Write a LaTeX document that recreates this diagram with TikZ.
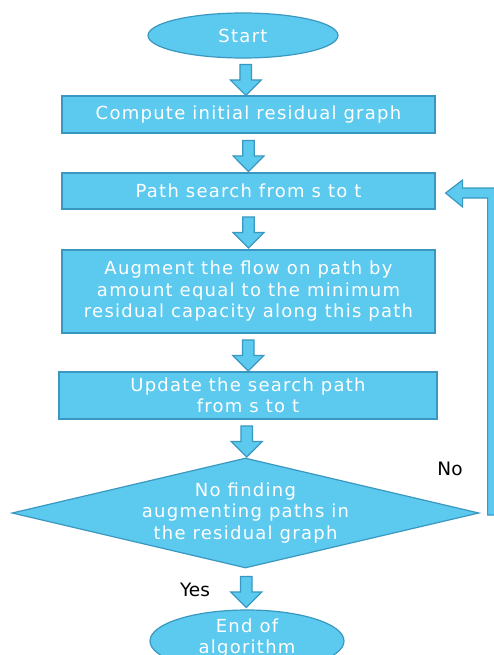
\documentclass[tikz,border=0pt]{standalone}
\usepackage{fontspec}
\setmainfont{DejaVu Sans}
\newfontfamily\vf[LetterSpace=7]{DejaVu Sans}
\usetikzlibrary{shapes.geometric,shapes.arrows,calc}
\definecolor{fillb}{RGB}{92,201,238}
\definecolor{edgeb}{RGB}{58,152,192}
\begin{document}
\begin{tikzpicture}[x=1pt,y=-1pt,
  base/.style={fill=fillb,draw=edgeb,line width=1.2pt,inner sep=0pt},
  txt/.style={text=white,font=\vf\fontsize{18}{21.5}\selectfont,align=center},
  boxn/.style={base,rectangle},
  ell/.style={base,ellipse},
  barrow/.style={base,single arrow,rotate=-90,minimum height=31pt,minimum width=31pt,single arrow head extend=1pt,single arrow head indent=0pt},
  lab/.style={text=black,font=\fontsize{18.5}{21}\selectfont}]
\useasboundingbox (0,0) rectangle (494,655);
\node[ell,minimum width=190pt,minimum height=45pt] (S) at (243,35.5) {};
\node[txt] at (S) {Start};
\node[boxn,minimum width=373pt,minimum height=37pt] (B1) at (248.5,114.5) {};
\node[txt] at (B1) {Compute initial residual graph};
\node[boxn,minimum width=373pt,minimum height=36pt] (B2) at (248.5,191) {};
\node[txt] at (B2) {Path search from s to t};
\node[boxn,minimum width=373pt,minimum height=83pt] (B3) at (248.5,291.5) {};
\node[txt] at (B3) {Augment the flow on path by\\amount equal to the minimum\\residual capacity along this path};
\node[boxn,minimum width=378pt,minimum height=47pt] (B4) at (248,395.5) {};
\node[txt] at (B4) {Update the search path\\from s to t};
\node[base,diamond,minimum width=467pt,minimum height=110pt] (D) at (245.5,513) {};
\node[txt] at (D) {No finding\\augmenting paths in\\the residual graph};
\node[ell,minimum width=194pt,minimum height=62pt] (E) at (247,641) {};
\node[txt] at ($(E)+(0,-3)$) {End of\\algorithm};
\node[barrow] (a1) at ($(S.south)!.5!(B1.north)$) {};
\node[barrow] (a2) at ($(B1.south)!.5!(B2.north)$) {};
\node[barrow] (a3) at ($(B2.south)!.5!(B3.north)$) {};
\node[barrow] (a4) at ($(B3.south)!.5!(B4.north)$) {};
\node[barrow] (a5) at ($(B4.south)!.5!(D.north)$) {};
\node[barrow] (a6) at ($(D.south)!.5!(E.north)$) {};
\coordinate (tip) at ($(B2.east)+(10,2)$);
\draw[fill=fillb,draw=edgeb,line width=1.2pt,line join=miter]
  (tip) -- ++(17,-13) -- ++(0,8) -- ++(34,0) -- ++(0,327) -- ++(-9,0)
  -- ++(0,-317) -- ++(-25,0) -- ++(0,9) -- cycle;
\node[lab] (yes) at (195,590) {Yes};
\node[lab] (no) at (450,469) {No};
\end{tikzpicture}
\end{document}
